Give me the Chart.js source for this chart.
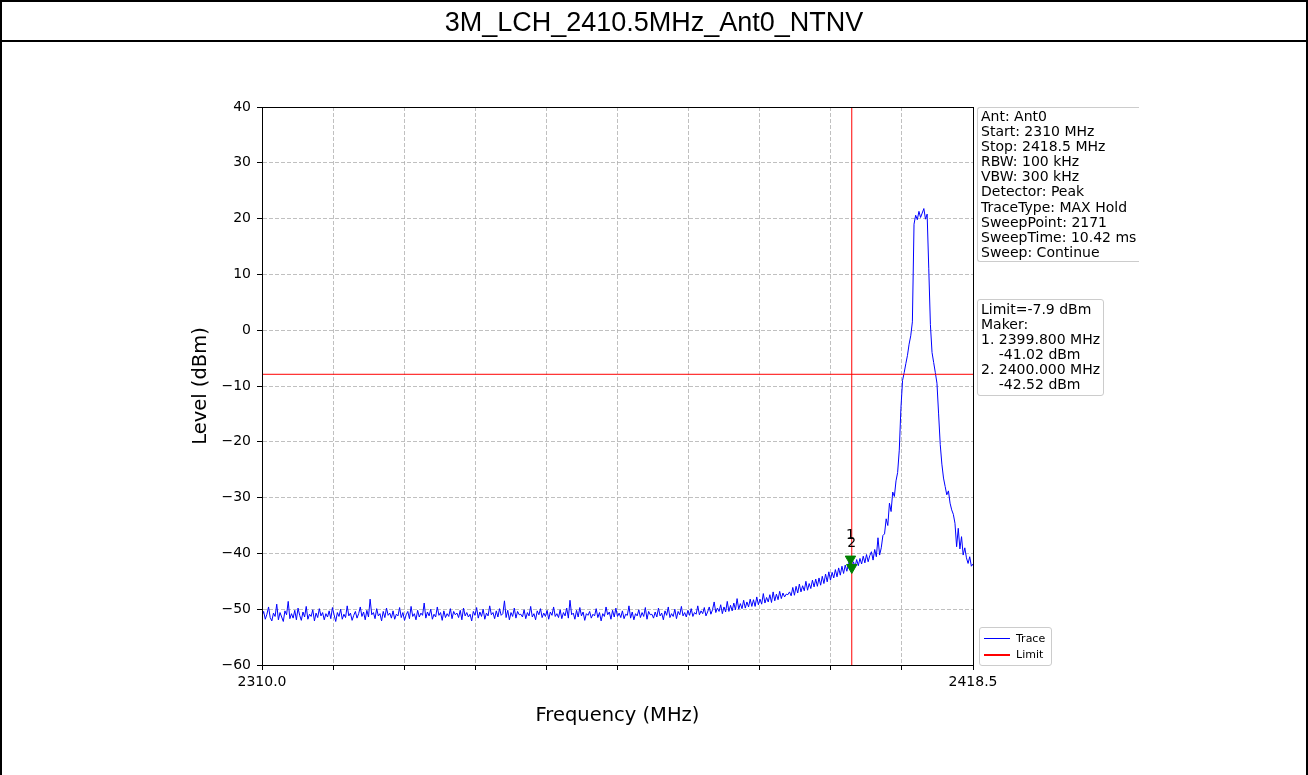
<!DOCTYPE html>
<html>
<head>
<meta charset="utf-8">
<title>3M_LCH_2410.5MHz_Ant0_NTNV</title>
<script src="https://cdn.jsdelivr.net/npm/chart.js@4.4.0/dist/chart.umd.min.js"></script>
<style>
    html, body { margin: 0; padding: 0; background: #fff; }
    #page { position: relative; width: 1308px; height: 775px; overflow: hidden; font-family: "DejaVu Sans", sans-serif; color: #000; }
    #chart { position: absolute; left: 0; top: 0; }
    #frame { position: absolute; left: 0; top: 0; width: 1304px; height: 820px; border: 2px solid #000; pointer-events: none; }
    #title { position: absolute; left: 0; top: 0; width: 1308px; height: 42px; box-sizing: border-box; padding-top: 2px;
             border-bottom: 2px solid #000; text-align: center; line-height: 40px;
             font-family: "Liberation Sans", Arial, sans-serif; font-size: 27px; }
    .box { position: absolute; background: rgba(255,255,255,0.85); border: 1px solid #cccccc; border-radius: 3px;
           font-size: 14px; line-height: 15.1px; white-space: pre; }
    #info { left: 977px; top: 107px; padding: 1px 3px; border-right: none; border-radius: 3px 0 0 3px; }
    #limitBox { left: 977px; top: 299px; padding: 2px 3px; }
    #legend { left: 979px; top: 627px; width: 63px; padding: 2px 4px; }
    .legend-row { display: flex; align-items: center; height: 16.5px; font-size: 11px; }
    .swatch { display: inline-block; width: 26px; height: 1.5px; margin-right: 6px; }
</style>
</head>
<body>
<div id="page">
    <canvas id="chart" width="1308" height="775"></canvas>
    <div id="title">3M_LCH_2410.5MHz_Ant0_NTNV</div>
    <div id="info" class="box"></div>
    <div id="limitBox" class="box"></div>
    <div id="legend" class="box"></div>
    <div id="frame"></div>
</div>
<script>
// Sweep settings
const START_MHZ = 2310.0;
const STOP_MHZ = 2418.5;
const STEP_MHZ = 0.25;
const X_DIVISIONS = 10;
const Y_MIN = -60;
const Y_MAX = 40;
const LIMIT_DBM = -7.9;
const BAND_EDGE_MHZ = 2400.0;

// Max hold trace, dBm, one value every STEP_MHZ
const traceLevels = [
    -51.2,-50.4,-51.8,-50.9,-49.6,-51.5,-52.1,-50.7,-51.3,-49.1,-51.9,-50.6,-51.4,-52.2,-50.3,-51.0,-48.6,-51.7,-50.8,-51.6,
    -50.2,-51.9,-49.8,-51.1,-52.0,-50.5,-51.4,-49.5,-51.8,-50.9,-51.3,-50.1,-52.1,-50.7,-51.5,-49.9,-51.2,-50.6,-51.9,-50.8,
    -51.4,-50.3,-51.7,-49.7,-51.0,-52.2,-50.6,-51.3,-50.0,-51.8,-50.9,-51.5,-49.4,-51.2,-50.7,-52.0,-51.1,-50.4,-51.6,-50.8,
    -49.6,-51.3,-50.5,-51.9,-50.2,-51.4,-48.2,-51.0,-50.6,-51.7,-49.9,-51.2,-50.8,-52.1,-50.4,-51.5,-49.8,-51.1,-50.7,-51.6,
    -50.3,-51.8,-50.9,-51.2,-49.7,-51.5,-50.6,-52.0,-51.0,-50.4,-51.7,-49.5,-51.3,-50.8,-51.9,-50.2,-51.4,-50.7,-51.1,-48.9,
    -51.6,-50.5,-51.2,-50.0,-51.8,-50.9,-51.4,-49.6,-51.1,-50.6,-52.0,-50.3,-51.5,-50.8,-51.3,-49.9,-51.7,-50.4,-51.0,-50.7,
    -51.5,-50.2,-51.9,-49.8,-51.2,-50.6,-51.4,-50.9,-52.1,-50.4,-51.1,-49.7,-51.6,-50.5,-51.3,-50.0,-51.8,-50.7,-51.2,-49.4,
    -51.0,-50.6,-51.7,-50.3,-51.4,-49.9,-51.1,-50.8,-48.5,-51.5,-50.2,-51.9,-50.6,-51.3,-49.8,-51.6,-50.4,-51.0,-50.9,-51.4,
    -50.1,-51.7,-50.6,-51.2,-49.5,-51.4,-50.8,-51.9,-50.3,-51.0,-49.9,-51.5,-50.7,-51.3,-50.2,-51.8,-50.5,-51.1,-49.6,-51.3,
    -50.8,-51.5,-50.1,-51.7,-50.6,-51.2,-49.8,-51.6,-48.4,-51.0,-50.7,-51.8,-50.2,-51.4,-49.7,-51.2,-50.5,-52.0,-50.8,-51.1,
    -50.4,-51.6,-50.9,-51.2,-49.9,-51.5,-50.6,-52.1,-50.8,-51.3,-49.6,-51.0,-50.5,-51.8,-50.2,-51.4,-49.8,-51.3,-50.7,-51.5,
    -50.3,-51.7,-50.9,-51.1,-49.4,-51.6,-50.5,-51.9,-50.8,-51.2,-50.1,-51.5,-50.6,-51.3,-49.7,-51.8,-50.4,-51.0,-50.9,-51.6,
    -50.5,-51.4,-49.8,-51.2,-50.7,-51.9,-50.3,-51.1,-49.6,-51.5,-50.8,-51.3,-50.0,-51.7,-50.4,-51.0,-49.5,-51.2,-50.6,-51.4,
    -50.2,-51.1,-49.9,-51.3,-50.6,-50.9,-49.4,-51.0,-50.3,-50.8,-49.7,-51.2,-50.5,-49.6,-50.9,-50.1,-48.7,-50.6,-49.8,-50.4,
    -49.2,-50.8,-49.6,-50.5,-48.6,-50.4,-49.3,-50.3,-48.9,-50.1,-48.1,-50.0,-49.0,-49.9,-48.4,-49.8,-48.7,-49.6,-48.2,-49.5,
    -48.3,-49.5,-47.8,-49.2,-48.2,-49.1,-47.2,-48.9,-47.9,-48.7,-47.4,-48.8,-46.9,-48.5,-47.3,-48.3,-46.8,-48.1,-47.1,-47.8,
    -47.3,-47.4,-46.9,-47.6,-46.1,-47.5,-45.9,-47.1,-45.5,-46.9,-45.8,-46.7,-45.0,-46.6,-45.4,-46.3,-44.8,-46.0,-44.6,-45.9,
    -44.4,-45.7,-44.1,-45.4,-43.7,-45.1,-43.3,-44.8,-43.4,-44.4,-42.9,-44.2,-42.6,-43.9,-42.3,-43.6,-42.1,-43.2,-41.8,-41.1,
    -42.5,-41.5,-42.4,-41.1,-42.2,-40.9,-41.9,-40.5,-41.7,-40.2,-41.5,-40.4,-39.7,-41.2,-39.3,-40.6,-37.2,-40.3,-39.0,-36.8,
    -36.5,-33.8,-35.0,-31.0,-32.5,-29.0,-29.8,-27.0,-25.5,-21.5,-14.0,-9.0,-7.6,-6.0,-4.5,-2.5,-1.0,1.5,19.0,20.6,
    19.8,21.3,20.2,21.0,21.8,19.9,20.8,11.0,1.0,-4.0,-5.8,-7.6,-9.5,-15.0,-20.5,-24.0,-26.5,-28.0,-29.5,-28.8,
    -31.0,-32.2,-33.0,-34.6,-38.8,-35.5,-39.2,-37.0,-40.3,-39.0,-40.8,-41.8,-40.6,-42.3,-41.9
];

// Markers
const markerNames = ['1', '2'];
const markerFreqs = [2399.8, 2400.0];
const markerLevels = [-41.02, -42.52];

// Text boxes
const infoLines = [
    'Ant: Ant0',
    'Start: 2310 MHz',
    'Stop: 2418.5 MHz',
    'RBW: 100 kHz',
    'VBW: 300 kHz',
    'Detector: Peak',
    'TraceType: MAX Hold',
    'SweepPoint: 2171',
    'SweepTime: 10.42 ms',
    'Sweep: Continue'
];
const limitLines = [
    'Limit=' + LIMIT_DBM + ' dBm',
    'Maker:',
    '1. 2399.800 MHz',
    '    -41.02 dBm',
    '2. 2400.000 MHz',
    '    -42.52 dBm'
];

document.getElementById('info').textContent = infoLines.join('\n');
document.getElementById('limitBox').textContent = limitLines.join('\n');

const traceData = traceLevels.map((v, i) => ({ x: START_MHZ + i * STEP_MHZ, y: v }));
const markerData = markerFreqs.map((f, i) => ({ x: f, y: markerLevels[i] }));

Chart.defaults.font.family = '"DejaVu Sans", sans-serif';
Chart.defaults.color = '#000';

// frame around the plot + marker numbers
const framePlugin = {
    id: 'frame',
    afterDatasetsDraw(chart) {
        const { ctx, chartArea: a, scales } = chart;
        ctx.save();
        ctx.font = '14px "DejaVu Sans"';
        ctx.fillStyle = '#000';
        ctx.textAlign = 'center';
        ctx.textBaseline = 'middle';
        markerNames.forEach((n, i) => {
            const px = scales.x.getPixelForValue(markerFreqs[i]);
            const py = scales.y.getPixelForValue(markerLevels[i]);
            ctx.fillText(n, px, py - 24);
        });
        const l = Math.round(a.left), t = Math.round(a.top);
        const r = Math.round(a.right), b = Math.round(a.bottom);
        ctx.strokeStyle = '#000';
        ctx.lineWidth = 1;
        ctx.strokeRect(l + 0.5, t + 0.5, r - l, b - t);
        ctx.restore();
    }
};

const gridOpts = { color: '#b0b0b0', lineWidth: 0.8, tickColor: '#000', tickLength: 5, tickWidth: 1 };
const borderOpts = { color: '#000', width: 1, dash: [4, 2] };

const chart = new Chart(document.getElementById('chart'), {
    type: 'line',
    data: {
        datasets: [
            {
                label: 'Trace',
                data: traceData,
                borderColor: '#0000ff',
                borderWidth: 1,
                pointRadius: 0,
                tension: 0,
                order: 3
            },
            {
                label: 'Limit',
                data: [{ x: START_MHZ, y: LIMIT_DBM }, { x: STOP_MHZ, y: LIMIT_DBM }],
                borderColor: '#ff0000',
                borderWidth: 1,
                pointRadius: 0,
                order: 1
            },
            {
                label: '',
                data: [{ x: BAND_EDGE_MHZ, y: Y_MIN }, { x: BAND_EDGE_MHZ, y: Y_MAX }],
                borderColor: '#ff0000',
                borderWidth: 1,
                pointRadius: 0,
                order: 2
            },
            {
                label: '',
                data: markerData,
                showLine: false,
                pointStyle: 'triangle',
                rotation: 180,
                pointRadius: 6,
                backgroundColor: '#008000',
                borderColor: '#008000',
                borderWidth: 1,
                order: 0
            }
        ]
    },
    options: {
        responsive: false,
        devicePixelRatio: 1,
        animation: false,
        events: [],
        layout: { padding: { top: 107, left: 182, right: 335, bottom: 40 } },
        plugins: {
            legend: { display: false },
            tooltip: { enabled: false }
        },
        scales: {
            x: {
                type: 'linear',
                min: START_MHZ,
                max: STOP_MHZ,
                grid: gridOpts,
                border: borderOpts,
                afterBuildTicks: scale => {
                    const span = STOP_MHZ - START_MHZ;
                    scale.ticks = [];
                    for (let k = 0; k <= X_DIVISIONS; k++) {
                        scale.ticks.push({ value: START_MHZ + k * span / X_DIVISIONS });
                    }
                },
                afterFit: scale => {
                    scale.height = 70;
                    scale.paddingLeft = 0;
                    scale.paddingRight = 0;
                },
                ticks: {
                    autoSkip: false,
                    maxRotation: 0,
                    padding: 4,
                    font: { size: 14 },
                    callback: (value, index, ticks) =>
                        (index === 0 || index === ticks.length - 1) ? Number(value).toFixed(1) : ''
                },
                title: {
                    display: true,
                    text: 'Frequency (MHz)',
                    font: { size: 19.5 },
                    padding: { top: 0, bottom: 7 }
                }
            },
            y: {
                min: Y_MIN,
                max: Y_MAX,
                grid: gridOpts,
                border: borderOpts,
                afterFit: scale => {
                    scale.width = 80;
                    scale.paddingTop = 0;
                    scale.paddingBottom = 0;
                },
                ticks: {
                    stepSize: 10,
                    padding: 6,
                    font: { size: 14 },
                    callback: v => (v < 0 ? '\u2212' + Math.abs(v) : String(v))
                },
                title: {
                    display: true,
                    text: 'Level (dBm)',
                    font: { size: 19.5 },
                    padding: { top: 7, bottom: 0 }
                }
            }
        }
    },
    plugins: [framePlugin]
});

// legend box outside the plot, like the original
const legendBox = document.getElementById('legend');
chart.data.datasets.filter(ds => ds.label).forEach(ds => {
    const row = document.createElement('div');
    row.className = 'legend-row';
    const swatch = document.createElement('span');
    swatch.className = 'swatch';
    swatch.style.background = ds.borderColor;
    const txt = document.createElement('span');
    txt.textContent = ds.label;
    row.append(swatch, txt);
    legendBox.append(row);
});
</script>
</body>
</html>
